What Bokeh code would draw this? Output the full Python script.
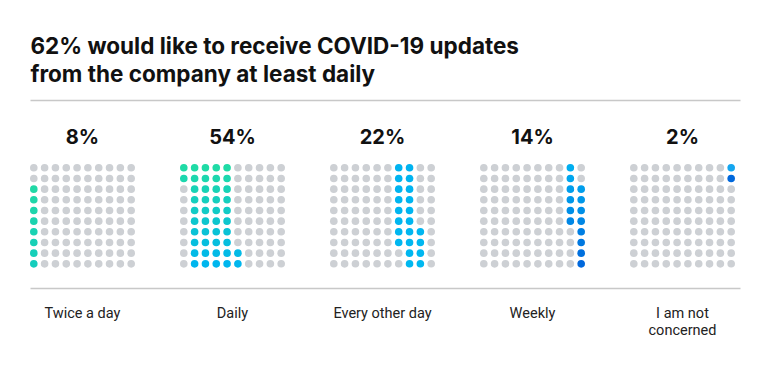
from bokeh.plotting import figure
from bokeh.models import Range1d, ColumnDataSource
from bokeh.core.properties import value
from bokeh.embed import file_html
from bokeh.resources import INLINE
import numpy as np

# ---- data ----
title_lines = ["62% would like to receive COVID-19 updates",
               "from the company at least daily"]
categories = ["Twice a day", "Daily", "Every other day", "Weekly", "I am not concerned"]
category_lines = [["Twice a day"], ["Daily"], ["Every other day"], ["Weekly"], ["I am not", "concerned"]]
percents = [8, 54, 22, 14, 2]
dots_filled = [8, 44, 22, 14, 2]   # coloured dots as drawn in the reference

# ---- style ----
W, H = 754, 366
grey = "#cdd0d4"
grad = [("#22d8a6", "#14cdbc"), ("#1fdba6", "#00b6ee"), ("#00b3f0", "#00b8f0"),
        ("#00aef0", "#0068dc"), ("#14a6f0", "#0068dc")]

def hex2rgb(h):
    return np.array([int(h[i:i + 2], 16) for i in (1, 3, 5)], dtype=float)

def mix(a, b, t):
    c = hex2rgb(a) * (1 - t) + hex2rgb(b) * t
    return "#%02x%02x%02x" % tuple(int(round(v)) for v in c)

p = figure(width=W, height=H, output_backend="svg", toolbar_location=None,
           x_range=Range1d(0, W), y_range=Range1d(H, 0), min_border=0)
p.axis.visible = False
p.grid.visible = False
p.outline_line_color = None
p.background_fill_color = "white"
p.border_fill_color = "white"

# title
p.text(x=[30, 30], y=[45, 73], text=title_lines,
       text_font=value("Inter"), text_font_style="bold", text_font_size="22.5px",
       text_color="#111111", text_baseline="alphabetic", text_align="left")

# rules
p.segment(x0=[30, 30], x1=[740, 740], y0=[100, 288], y1=[100, 288],
          line_color="#c8c8c8", line_width=1.5)

# waffles
grid_left0 = 33.3
grid_step = 150.0
dx = 10.82
dy = 10.67
top_y = 167.3

xs, ys, cs = [], [], []
cum = np.concatenate([[0], np.cumsum(percents)[:-1]])
for g in range(len(categories)):
    start = int(cum[g])
    filled = set(range(start, start + dots_filled[g]))
    rows_f = [9 - (q % 10) for q in filled]
    rmin, rmax = (min(rows_f), max(rows_f)) if rows_f else (0, 9)
    for col in range(10):
        for r in range(10):
            pos = col * 10 + (9 - r)
            xs.append(grid_left0 + g * grid_step + col * dx)
            ys.append(top_y + r * dy)
            if pos in filled:
                t = 0 if rmax == rmin else (r - rmin) / (rmax - rmin)
                cs.append(mix(grad[g][0], grad[g][1], t))
            else:
                cs.append(grey)

src = ColumnDataSource(dict(x=xs, y=ys, c=cs))
p.scatter("x", "y", source=src, size=7.6, fill_color="c", line_color=None, marker="circle")

# percent labels
centers = [grid_left0 + g * grid_step + 4.5 * dx for g in range(len(categories))]
p.text(x=centers, y=[136] * len(centers), text=[f"{v}%" for v in percents],
       text_font=value("Inter"), text_font_style="bold", text_font_size="20px",
       text_color="#111111", text_baseline="alphabetic", text_align="center")

# category labels
lx, ly, lt = [], [], []
for g, lines in enumerate(category_lines):
    for i, ln in enumerate(lines):
        lx.append(centers[g])
        ly.append(313 + i * 17)
        lt.append(ln)
p.text(x=lx, y=ly, text=lt, text_font=value("Roboto"), text_font_size="14.5px",
       text_color="#222222", text_baseline="alphabetic", text_align="center")

open("out.html", "w").write(file_html(p, INLINE))
